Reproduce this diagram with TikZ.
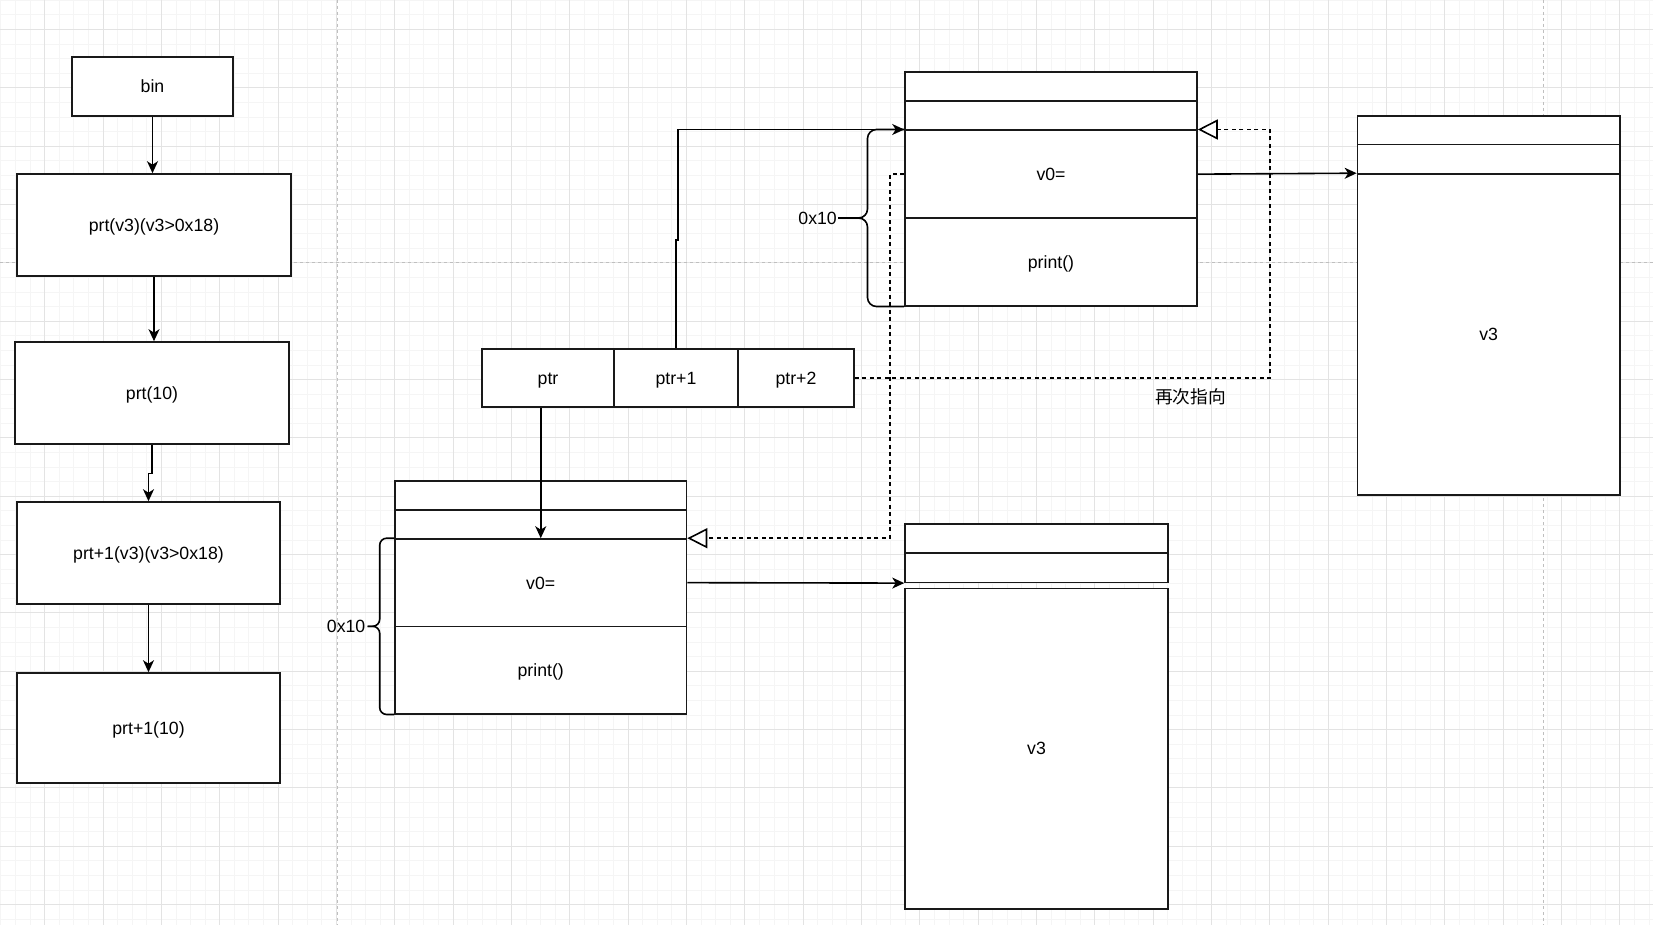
\documentclass[tikz,border=0pt]{standalone}
\usepackage{fontspec}
\setmainfont{Liberation Sans}
\newfontfamily\cjk{Noto Sans CJK SC}
\usetikzlibrary{arrows.meta}

\begin{document}
\begin{tikzpicture}[x=1pt, y=-1pt,
  every node/.style={font=\fontsize{17.7}{21}\selectfont, text height=12.8pt, text depth=0pt},
  cell/.style 2 args={draw=black!90, fill=white, line width=1.6pt, inner sep=0pt, minimum width=#1, minimum height=#2},
  link/.style={line width=1.6pt, -{Stealth[length=12pt, width=11pt, inset=3.5pt]}},
  again/.style={line width=1.6pt, dash pattern=on 4pt off 3.5pt, -{Triangle[open, fill=white, length=20pt, width=20pt]}},
  brace/.style={line width=1.6pt, rounded corners=9pt},
  minorgrid/.style={draw=black!4, line width=0.9pt},
  majorgrid/.style={draw=black!11, line width=0.9pt},
  pagebreak/.style={draw=black!25, line width=0.9pt, dash pattern=on 3pt off 3pt}]

\def\W{1653}  
\def\H{925}   
\def\gx{44.7} 
\def\gy{29.5} 
\def\gs{14.585}

\useasboundingbox (0,0) rectangle (\W,\H);
\fill[white] (0,0) rectangle (\W,\H);

\foreach \i in {-3,...,110} \draw[minorgrid] ({\gx+\i*\gs},0) -- ++(0,\H);
\foreach \j in {-2,...,61} \draw[minorgrid] (0,{\gy+\j*\gs}) -- ++(\W,0);
\foreach \i in {-1,...,27} \draw[majorgrid] ({\gx+4*\i*\gs},0) -- ++(0,\H);
\foreach \j in {-1,...,15} \draw[majorgrid] (0,{\gy+4*\j*\gs}) -- ++(\W,0);

\draw[pagebreak] (337.3,0) -- ++(0,\H);
\draw[pagebreak] (1543.3,0) -- ++(0,\H);
\draw[pagebreak] (0,262.3) -- ++(\W,0);

\node[cell={161}{59}]  (bin)  at (152.5,86.5) {bin};
\node[cell={274}{102}] (pv3)  at (154,225)    {prt(v3)(v3>0x18)};
\node[cell={274}{102}] (p10)  at (152,393)    {prt(10)};
\node[cell={263}{102}] (p1v3) at (148.5,553)  {prt+1(v3)(v3>0x18)};
\node[cell={263}{110}] (p110) at (148.5,728)  {prt+1(10)};

\draw[link] (bin.south) -- (bin.south |- pv3.north);
\draw[link] (pv3.south) -- (pv3.south |- p10.north);
\draw[link] (p10.south) -- ++(0,28.7) -| (p1v3.north);
\draw[link] (p1v3.south) -- (p110.north);

\node[cell={132}{58.5}] (p0) at (548,378) {ptr};
\node[cell={124}{58.5}] (p1) at (676,378) {ptr+1};
\node[cell={116}{58.5}] (p2) at (796,378) {ptr+2};

\node[cell={292}{29}]   (ta)  at (1051,86.5)   {};
\node[cell={292}{29.3}] (tb)  at (1051,115.65) {};
\node[cell={292}{87.7}] (tv0) at (1051,174.15) {v0=};
\node[cell={292}{87.7}] (tpr) at (1051,261.85) {print()};

\node[cell={291.5}{29}]   (ba)  at (540.75,495.2)  {};
\node[cell={291.5}{29.3}] (bb)  at (540.75,524.35) {};
\node[cell={291.5}{87.3}] (bv0) at (540.75,582.65) {v0=};
\node[cell={291.5}{87.4}] (bpr) at (540.75,670)    {print()};

\node[cell={262.3}{28.5}] (ra) at (1488.6,130.25) {};
\node[cell={262.3}{29.5}] (rb) at (1488.6,159.25) {};
\node[cell={262.3}{321}]  (rc) at (1488.6,334.5)  {v3};

\node[cell={263}{29}]    (qa) at (1036.5,538.5)  {};
\node[cell={263}{29.3}]  (qb) at (1036.5,567.65) {};
\node[cell={263}{320.4}] (qc) at (1036.5,748.5)  {v3};

\node[anchor=east, inner sep=1pt] (tsize) at (838,218) {0x10};
\node[anchor=east, inner sep=2pt] (bsize) at (367.5,626.3) {0x10};
\draw[brace] (tv0.north west) -- ++(-36.7,0) |- (tsize.east);
\draw[brace] (tpr.south west) -- ++(-36.7,0) |- (tsize.east);
\draw[brace, rounded corners=7pt] (bv0.north west) -- ++(-14.5,0) |- (bsize.east);
\draw[brace, rounded corners=7pt] (bpr.south west) -- ++(-14.5,0) |- (bsize.east);

\draw[link] (p0.south -| bv0.north) -- (bv0.north);
\draw[link] (p1.north) -- ++(0,-107.7) -- ++(2,0) |- (tv0.north west);
\draw[link] (tv0.east) -- (rc.north west);
\draw[link] (bv0.east) -- (qb.south west);

\draw[again] (tv0.west) -- ++(-14.3,0) |- (bv0.north east);
\draw[again] (p2.east) -- ++(415,0) |- (tv0.north east);
\node (again) at (1190.5,397) {\cjk 再次指向};

\end{tikzpicture}
\end{document}
